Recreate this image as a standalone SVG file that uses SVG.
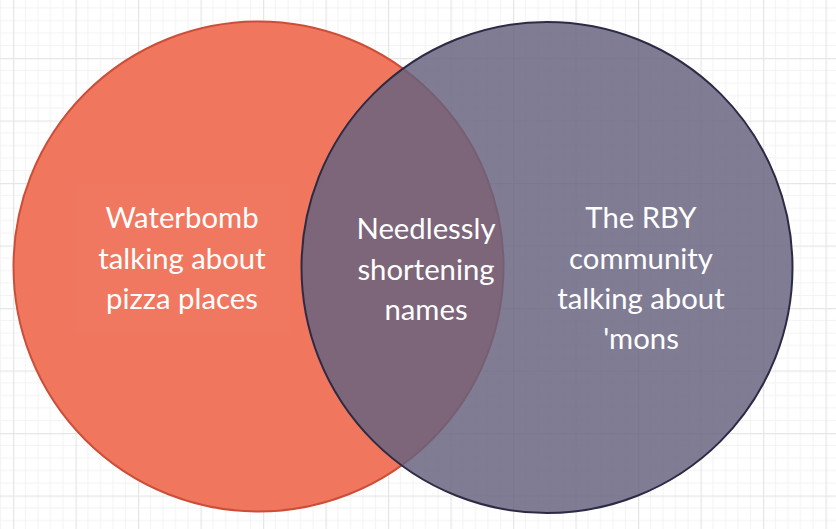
<svg xmlns="http://www.w3.org/2000/svg" width="836" height="529" viewBox="0 0 836 529">
  <defs>
    <pattern id="grid" patternUnits="userSpaceOnUse" x="13" y="-4.5" width="62.5" height="62.5">
      <path d="M12.5 0V62.5M25 0V62.5M37.5 0V62.5M50 0V62.5M0 12.5H62.5M0 25H62.5M0 37.5H62.5M0 50H62.5" stroke="#F3F3F3" stroke-width="1" fill="none"/>
      <path d="M0.5 0V62.5M0 0.5H62.5" stroke="#E6E6E6" stroke-width="1.5" fill="none"/>
    </pattern>
    <style>
      .lbl { font-family: Lato, "Open Sans", sans-serif; font-size: 29.3px; fill: #FFFFFF; text-anchor: middle; }
    </style>
  </defs>
  <rect width="836" height="529" fill="#FFFFFF"/>
  <rect width="836" height="529" fill="url(#grid)"/>

  <g id="left-circle">
    <circle cx="258.5" cy="266.5" r="245" fill="#F1765E" stroke="#CC4E38" stroke-width="2"/>
    <rect x="76" y="183" width="214" height="150" fill="#FFFFFF" fill-opacity="0.015"/>
    <text class="lbl" x="182" y="228">Waterbomb</text>
    <text class="lbl" x="182" y="268.5">talking about</text>
    <text class="lbl" x="182" y="309">pizza places</text>
  </g>

  <g id="right-circle">
    <circle cx="547" cy="267.5" r="245.5" fill="#66637E" fill-opacity="0.84" stroke="#2C2B45" stroke-width="2"/>
    <text class="lbl" x="641" y="228">The RBY</text>
    <text class="lbl" x="641" y="268.5">community</text>
    <text class="lbl" x="641" y="308.5">talking about</text>
    <text class="lbl" x="641" y="348.5">'mons</text>
  </g>

  <g id="intersection">
    <text class="lbl" x="426" y="239">Needlessly</text>
    <text class="lbl" x="426" y="279.5">shortening</text>
    <text class="lbl" x="426" y="320">names</text>
  </g>

  <g id="connectors"></g>
</svg>
